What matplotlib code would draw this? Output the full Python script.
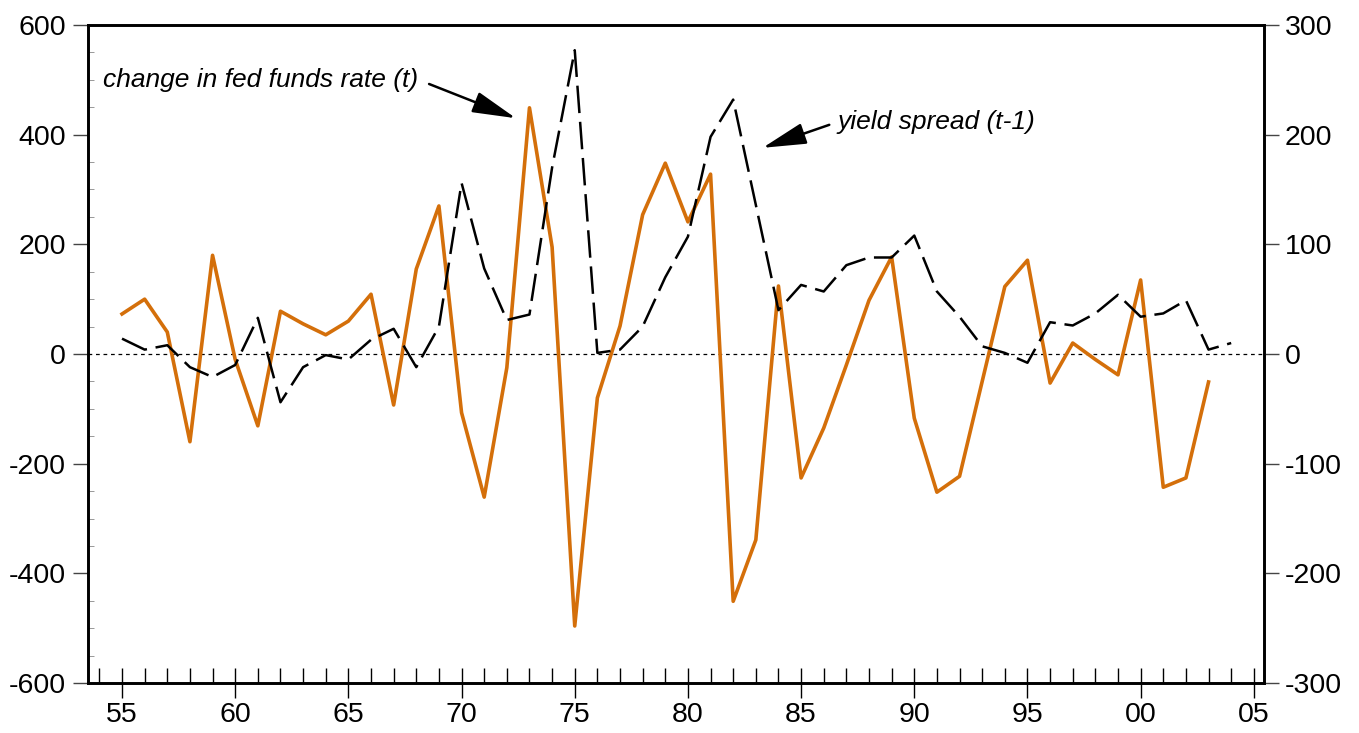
import matplotlib.pyplot as plt
from matplotlib.ticker import MultipleLocator, FixedLocator

plt.rcParams['font.family'] = ['Liberation Sans', 'DejaVu Sans']
plt.rcParams['axes.unicode_minus'] = False

# annual data, 1955-2004
fed_years = list(range(55, 104))
fed_change = [73, 100, 40, -160, 180, -10, -131, 78, 55, 35,
              60, 109, -93, 155, 270, -107, -261, -25, 449, 195,
              -496, -80, 51, 254, 348, 241, 328, -451, -339, 124,
              -226, -135, -20, 98, 177, -117, -252, -223, -50, 123,
              171, -53, 20, -10, -38, 135, -243, -226, -51]

spread_years = list(range(55, 105))
spread_lag = [14, 4, 8, -12, -21, -10, 33, -44, -12, -1,
              -5, 13, 23, -12, 25, 156, 78, 31, 36, 170,
              277, 1, 4, 25, 70, 107, 198, 232, 136, 40,
              63, 57, 81, 88, 88, 108, 57, 34, 7, 1,
              -8, 29, 26, 37, 54, 34, 37, 49, 4, 10]

x_ticks = [55, 60, 65, 70, 75, 80, 85, 90, 95, 100, 105]
x_labels = ['55', '60', '65', '70', '75', '80', '85', '90', '95', '00', '05']

orange = '#D46F0A'

fig = plt.figure(figsize=(13.59, 7.33), dpi=100)
ax = fig.add_axes([0.0648, 0.0682, 0.8653, 0.8977])
ax2 = ax.twinx()

ax.axhline(0, color='black', lw=0.9, linestyle=(0, (3, 3)), zorder=1)
ax.plot(fed_years, fed_change, color=orange, lw=2.6, zorder=3)
ax2.plot(spread_years, spread_lag, color='black', lw=1.8,
         dashes=(11, 3.5), zorder=2)

ax.set_xlim(53.5, 105.45)
ax.set_ylim(-600, 600)
ax2.set_ylim(-300, 300)

ax.xaxis.set_major_locator(FixedLocator(x_ticks))
ax.set_xticklabels(x_labels)
ax.xaxis.set_minor_locator(MultipleLocator(1))
ax.yaxis.set_major_locator(MultipleLocator(200))
ax.yaxis.set_minor_locator(MultipleLocator(50))
ax2.yaxis.set_major_locator(MultipleLocator(100))

ax.tick_params(axis='x', which='major', direction='inout', length=22,
               width=1.0, labelsize=20.5, pad=3, top=False)
ax.tick_params(axis='x', which='minor', direction='in', length=11,
               width=1.0, top=False)
ax.tick_params(axis='y', which='major', direction='out', length=11,
               width=1.0, color='#444444', labelsize=20.5, pad=5)
ax.tick_params(axis='y', which='minor', direction='in', length=4,
               width=0.6, color='#888888')
ax2.tick_params(axis='y', which='major', direction='out', length=11,
                width=1.0, color='#444444', labelsize=20.5, pad=4)

for a in (ax, ax2):
    for s in a.spines.values():
        s.set_linewidth(1.9)

head = '-|>,head_length=1.35,head_width=0.33'
ax.annotate('change in fed funds rate (t)', xy=(72.4, 430), xytext=(68.1, 500),
            ha='right', va='center', fontsize=19, style='italic',
            arrowprops=dict(arrowstyle=head, mutation_scale=20, lw=1.8,
                            color='black', relpos=(1, 0.5),
                            shrinkA=6, shrinkB=0))
ax.annotate('yield spread (t-1)', xy=(83.3, 376), xytext=(86.6, 423),
            ha='left', va='center', fontsize=19, style='italic',
            arrowprops=dict(arrowstyle=head, mutation_scale=20, lw=1.8,
                            color='black', relpos=(0, 0.5),
                            shrinkA=4, shrinkB=0))

fig.savefig('out.png', dpi=100)
